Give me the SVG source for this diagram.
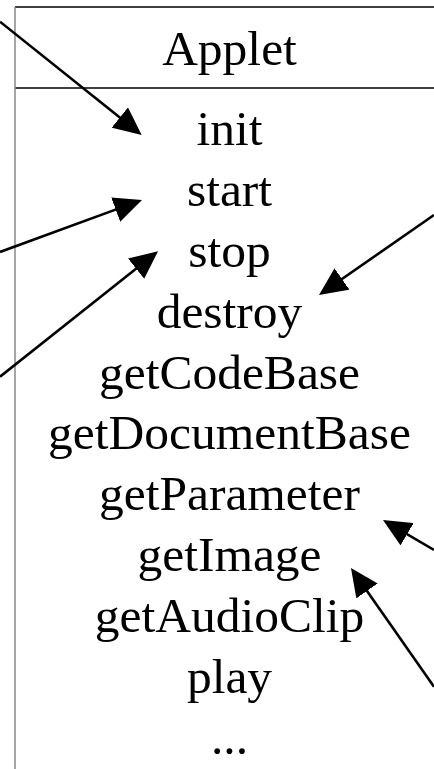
<svg xmlns="http://www.w3.org/2000/svg" width="434" height="769" viewBox="0 0 434 769">
  <style>
    .frame { stroke: #000; stroke-width: 1.5; fill: none; }
    .side { stroke: #888; stroke-width: 1.5; fill: none; }
    .label { font-family: "Liberation Serif", "Times New Roman", serif; font-size: 49.5px; fill: #000; text-anchor: middle; }
    .conn { stroke: #000; stroke-width: 2.6; fill: none; marker-end: url(#head); }
  </style>
  <defs>
    <marker id="head" markerUnits="userSpaceOnUse" markerWidth="28" markerHeight="26" refX="18" refY="13" orient="auto">
      <path d="M0,0 L28,13 L0,26 z" fill="#000"/>
    </marker>
  </defs>

  <!-- Applet class box: header and method list -->
  <g id="applet">
    <line class="frame" x1="15" y1="7" x2="434" y2="7"/>
    <line class="frame" x1="15" y1="88" x2="434" y2="88"/>
    <line class="side" x1="15" y1="7" x2="15" y2="769"/>
    <text class="label" x="229.5" y="65">Applet</text>
    <text class="label" x="229.5" y="145">init</text>
    <text class="label" x="229.5" y="206">start</text>
    <text class="label" x="229.5" y="266.5">stop</text>
    <text class="label" x="229.5" y="327.5">destroy</text>
    <text class="label" x="229.5" y="388.5">getCodeBase</text>
    <text class="label" x="229.5" y="449">getDocumentBase</text>
    <text class="label" x="229.5" y="510">getParameter</text>
    <text class="label" x="229.5" y="571">getImage</text>
    <text class="label" x="229.5" y="631.5">getAudioClip</text>
    <text class="label" x="229.5" y="692.5">play</text>
    <text class="label" x="229.5" y="753.5">...</text>
  </g>

  <!-- incoming calls -->
  <g id="connectors">
    <line class="conn" x1="0" y1="21.7" x2="133.9" y2="128.8"/>
    <line class="conn" x1="0" y1="252" x2="132.6" y2="203.4"/>
    <line class="conn" x1="0" y1="376.7" x2="150.2" y2="257.5"/>
    <line class="conn" x1="434" y1="215" x2="327.2" y2="289.3"/>
    <line class="conn" x1="434" y1="550" x2="391.6" y2="525.1"/>
    <line class="conn" x1="434" y1="686.7" x2="356.7" y2="576.2"/>
  </g>
</svg>
